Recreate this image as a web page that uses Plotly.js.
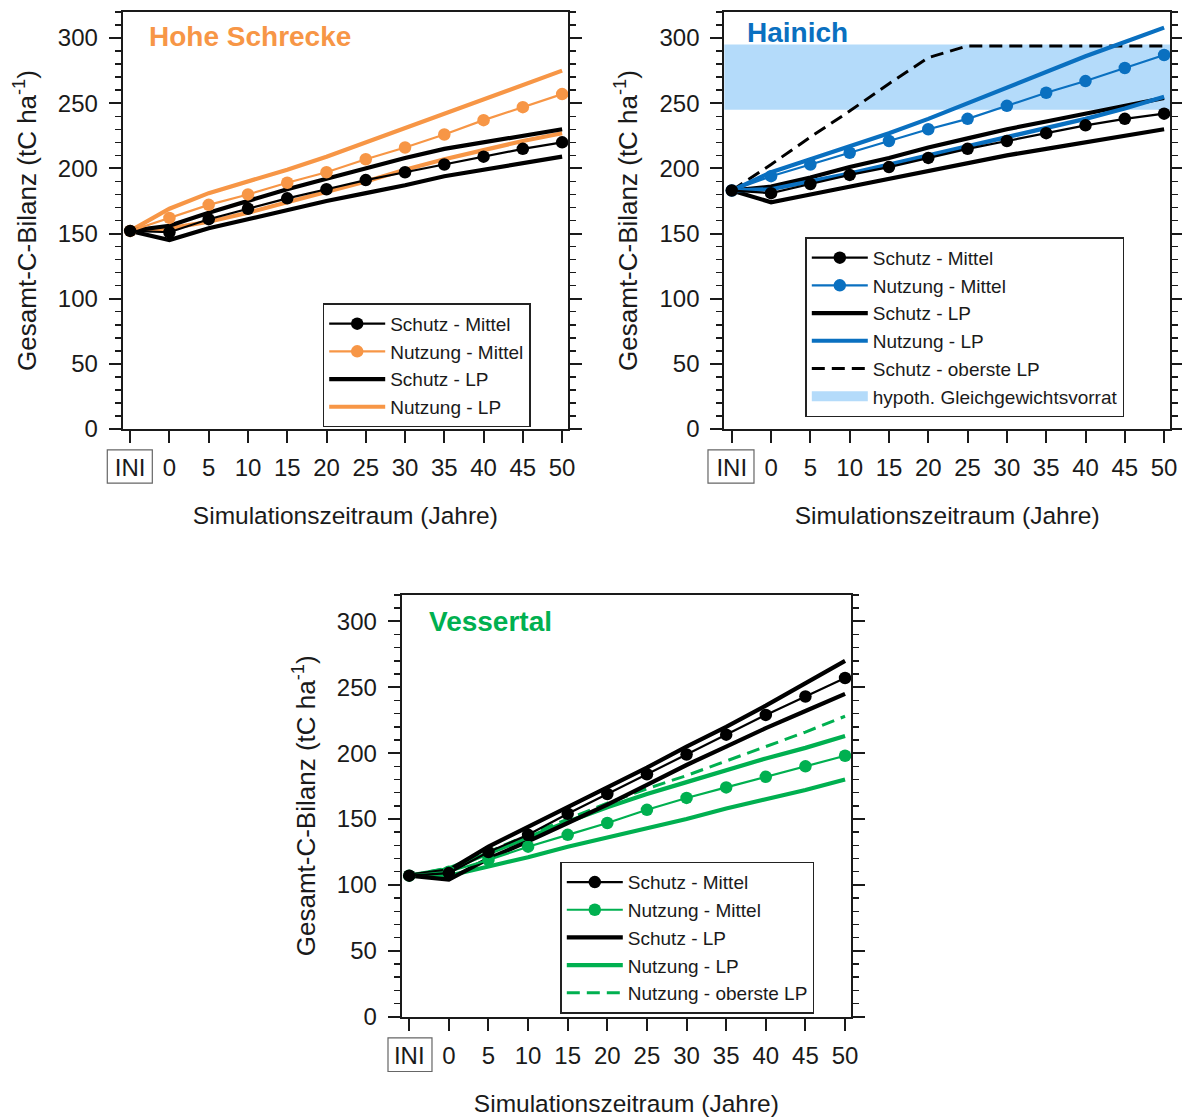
<!DOCTYPE html>
<html>
<head>
<meta charset="utf-8">
<script src="https://cdn.plot.ly/plotly-3.0.1.min.js"></script>
<style>html,body{margin:0;padding:0;background:#fff}#chart{width:1182px;height:1117px}</style>
</head>
<body>
<div id="chart"></div>
<script>
// ---- categories / tick labels ----
const years = ['INI', '0', '5', '10', '15', '20', '25', '30', '35', '40', '45', '50'];
const yTickVals = [0, 50, 100, 150, 200, 250, 300];

// ---- Hohe Schrecke ----
const hsSchutzMittel  = [152, 151, 161, 169, 177, 184, 191, 197, 203, 209, 215, 220];
const hsNutzungMittel = [152, 162, 172, 180, 189, 197, 207, 216, 226, 237, 247, 257];
const hsSchutzLPHigh  = [152, 156, 166, 175, 184, 192, 200, 208, 215, 220, 225, 230];
const hsSchutzLPLow   = [152, 145, 154, 161, 168, 175, 181, 187, 194, 199, 204, 209];
const hsNutzungLPHigh = [152, 169, 181, 190, 199, 209, 220, 231, 242, 253, 264, 275];
const hsNutzungLPLow  = [152, 154, 159, 166, 174, 182, 190, 199, 207, 214, 221, 227];

// ---- Hainich ----
const haSchutzMittel  = [183, 181, 188, 195, 201, 208, 215, 221, 227, 233, 238, 242];
const haNutzungMittel = [183, 194, 203, 212, 221, 230, 238, 248, 258, 267, 277, 287];
const haSchutzLPHigh  = [183, 186, 193, 201, 208, 216, 223, 230, 236, 242, 248, 254];
const haSchutzLPLow   = [183, 174, 180, 186, 192, 198, 204, 210, 215, 220, 225, 230];
const haNutzungLPHigh = [183, 197, 207, 217, 227, 238, 250, 262, 274, 286, 297, 308];
const haNutzungLPLow  = [183, 184, 190, 196, 203, 210, 217, 224, 231, 238, 246, 255];
const haSchutzOberste = [183, 203, 224, 244, 265, 285, 294, 294, 294, 294, 294, 294];
const haBandLow = 245;
const haBandHigh = 295;

// ---- Vessertal ----
const veSchutzMittel   = [107, 109, 125, 138, 154, 169, 184, 199, 214, 229, 243, 257];
const veNutzungMittel  = [107, 110, 119, 129, 138, 147, 157, 166, 174, 182, 190, 198];
const veSchutzLPHigh   = [107, 111, 129, 144, 159, 174, 189, 205, 220, 236, 253, 270];
const veSchutzLPLow    = [107, 104, 120, 133, 147, 161, 176, 191, 205, 219, 232, 245];
const veNutzungLPHigh  = [107, 112, 124, 136, 148, 159, 169, 178, 187, 196, 204, 213];
const veNutzungLPLow   = [107, 107, 114, 121, 129, 136, 143, 150, 158, 165, 172, 180];
const veNutzungOberste = [107, 113, 125, 138, 150, 162, 173, 183, 194, 205, 216, 228];

// ---- styles ----
const FONT = 'Liberation Sans, Arial, Helvetica, sans-serif';
const INK = '#1a1a1a';
const BLACK = '#000000';
const ORANGE = '#f79646';
const BLUE = '#0a70c0';
const GREEN = '#00b050';
const BAND = '#b4dbfa';

function lpTrace(y, color, name, grp, leg, xa, ya, show, rank, dash) {
  return {
    type: 'scatter', mode: 'lines', x: years, y: y, name: name,
    legendgroup: grp, legend: leg, showlegend: show, legendrank: rank,
    xaxis: xa, yaxis: ya,
    line: {color: color, width: dash ? 3 : 4.2, dash: dash || 'solid'},
    hoverinfo: 'skip'
  };
}
function mittelTrace(y, color, name, leg, xa, ya, rank) {
  return {
    type: 'scatter', mode: 'lines+markers', x: years, y: y, name: name,
    legend: leg, legendrank: rank, xaxis: xa, yaxis: ya,
    line: {color: color, width: 2.2},
    marker: {color: color, size: 12.5, symbol: 'circle'},
    hoverinfo: 'skip'
  };
}

const traces = [
  // Hohe Schrecke
  lpTrace(hsNutzungLPLow, ORANGE, 'Nutzung - LP', 'hsN', 'legend', 'x', 'y', false, 4),
  lpTrace(hsNutzungLPHigh, ORANGE, 'Nutzung - LP', 'hsN', 'legend', 'x', 'y', true, 4),
  lpTrace(hsSchutzLPLow, BLACK, 'Schutz - LP', 'hsS', 'legend', 'x', 'y', false, 3),
  lpTrace(hsSchutzLPHigh, BLACK, 'Schutz - LP', 'hsS', 'legend', 'x', 'y', true, 3),
  mittelTrace(hsNutzungMittel, ORANGE, 'Nutzung - Mittel', 'legend', 'x', 'y', 2),
  mittelTrace(hsSchutzMittel, BLACK, 'Schutz - Mittel', 'legend', 'x', 'y', 1),

  // Hainich
  {type: 'scatter', mode: 'lines', x: [null], y: [null], name: 'hypoth. Gleichgewichtsvorrat',
   legend: 'legend2', legendrank: 6, xaxis: 'x2', yaxis: 'y2',
   line: {color: BAND, width: 10}, hoverinfo: 'skip'},
  lpTrace(haSchutzOberste, BLACK, 'Schutz - oberste LP', 'haO', 'legend2', 'x2', 'y2', true, 5, '13px,7px'),
  lpTrace(haSchutzLPLow, BLACK, 'Schutz - LP', 'haS', 'legend2', 'x2', 'y2', false, 3),
  lpTrace(haSchutzLPHigh, BLACK, 'Schutz - LP', 'haS', 'legend2', 'x2', 'y2', true, 3),
  lpTrace(haNutzungLPLow, BLUE, 'Nutzung - LP', 'haN', 'legend2', 'x2', 'y2', false, 4),
  lpTrace(haNutzungLPHigh, BLUE, 'Nutzung - LP', 'haN', 'legend2', 'x2', 'y2', true, 4),
  mittelTrace(haNutzungMittel, BLUE, 'Nutzung - Mittel', 'legend2', 'x2', 'y2', 2),
  mittelTrace(haSchutzMittel, BLACK, 'Schutz - Mittel', 'legend2', 'x2', 'y2', 1),

  // Vessertal
  lpTrace(veNutzungOberste, GREEN, 'Nutzung - oberste LP', 'veO', 'legend3', 'x3', 'y3', true, 5, '13px,7px'),
  lpTrace(veNutzungLPLow, GREEN, 'Nutzung - LP', 'veN', 'legend3', 'x3', 'y3', false, 4),
  lpTrace(veNutzungLPHigh, GREEN, 'Nutzung - LP', 'veN', 'legend3', 'x3', 'y3', true, 4),
  lpTrace(veSchutzLPLow, BLACK, 'Schutz - LP', 'veS', 'legend3', 'x3', 'y3', false, 3),
  lpTrace(veSchutzLPHigh, BLACK, 'Schutz - LP', 'veS', 'legend3', 'x3', 'y3', true, 3),
  mittelTrace(veNutzungMittel, GREEN, 'Nutzung - Mittel', 'legend3', 'x3', 'y3', 2),
  mittelTrace(veSchutzMittel, BLACK, 'Schutz - Mittel', 'legend3', 'x3', 'y3', 1)
];

function xAxis(domain, anchor) {
  return {
    domain: domain, anchor: anchor, type: 'category', categoryorder: 'array', categoryarray: years,
    range: [-0.19, 11.15], showgrid: false, zeroline: false,
    showline: true, linecolor: INK, linewidth: 2, mirror: true,
    ticks: 'outside', ticklen: 12, tickwidth: 2, tickcolor: INK,
    ticklabelstandoff: 4,
    tickfont: {family: FONT, size: 24, color: INK},
    title: {text: 'Simulationszeitraum (Jahre)', standoff: 27, font: {family: FONT, size: 24.5, color: INK}},
    fixedrange: true
  };
}
function yAxis(domain, anchor) {
  return {
    domain: domain, anchor: anchor, range: [0, 320], tickvals: yTickVals,
    showgrid: false, zeroline: false,
    showline: true, linecolor: INK, linewidth: 2, mirror: 'ticks',
    ticks: 'outside', ticklen: 12, tickwidth: 2, tickcolor: INK,
    minor: {dtick: 10, ticks: 'outside', ticklen: 6, tickwidth: 1.5, tickcolor: INK, showgrid: false},
    ticklabelstandoff: 6,
    tickfont: {family: FONT, size: 24, color: INK},
    title: {text: 'Gesamt-C-Bilanz (tC ha<sup>-1</sup>)', standoff: 14, font: {family: FONT, size: 26, color: INK}},
    fixedrange: true
  };
}
function legendBox(x, y) {
  return {
    x: x, y: y, xanchor: 'left', yanchor: 'top', orientation: 'v',
    bgcolor: '#ffffff', bordercolor: '#222', borderwidth: 1.5,
    font: {family: FONT, size: 19, color: INK},
    itemwidth: 56, tracegroupgap: 0, traceorder: 'normal'
  };
}
function iniBox(xr, yr, x0, x1) {
  return {type: 'rect', xref: xr, yref: yr, x0: x0, x1: x1, y0: -0.050, y1: -0.130,
          line: {color: '#666', width: 1.2}, fillcolor: 'rgba(0,0,0,0)', layer: 'above'};
}
function panelTitle(text, color, xr, yr, x, y) {
  return {text: '<b>' + text + '</b>', xref: xr, yref: yr, x: x, y: y, xanchor: 'left', yanchor: 'middle',
          showarrow: false, font: {family: FONT, size: 28, color: color}};
}

const layout = {
  width: 1182, height: 1117, margin: {l: 0, r: 0, t: 0, b: 0},
  paper_bgcolor: '#fff', plot_bgcolor: '#fff', hovermode: false, showlegend: true,
  xaxis: xAxis([122.7 / 1182, 568 / 1182], 'y'),
  yaxis: yAxis([1 - 429 / 1117, 1 - 12 / 1117], 'x'),
  xaxis2: xAxis([724.3 / 1182, 1170 / 1182], 'y2'),
  yaxis2: yAxis([1 - 429 / 1117, 1 - 12 / 1117], 'x2'),
  xaxis3: xAxis([401.7 / 1182, 851 / 1182], 'y3'),
  yaxis3: yAxis([1 - 1016.7 / 1117, 1 - 595 / 1117], 'x3'),
  legend: legendBox(322.7 / 1182, 1 - 303.3 / 1117),
  legend2: legendBox(805.3 / 1182, 1 - 237.3 / 1117),
  legend3: legendBox(560.3 / 1182, 1 - 861.7 / 1117),
  shapes: [
    {type: 'rect', xref: 'x2 domain', yref: 'y2', x0: 0, x1: 1, y0: haBandLow, y1: haBandHigh,
     fillcolor: BAND, line: {width: 0}, layer: 'below'},
    iniBox('x domain', 'y domain', -0.0346, 0.0665),
    iniBox('x2 domain', 'y2 domain', -0.0366, 0.0666),
    iniBox('x3 domain', 'y3 domain', -0.0305, 0.0674)
  ],
  annotations: [
    panelTitle('Hohe Schrecke', ORANGE, 'x domain', 'y domain', 0.0546, 0.9424),
    panelTitle('Hainich', BLUE, 'x2 domain', 'y2 domain', 0.0464, 0.952),
    panelTitle('Vessertal', GREEN, 'x3 domain', 'y3 domain', 0.0563, 0.938)
  ]
};

Plotly.newPlot('chart', traces, layout, {staticPlot: true, displayModeBar: false});
</script>
</body>
</html>
